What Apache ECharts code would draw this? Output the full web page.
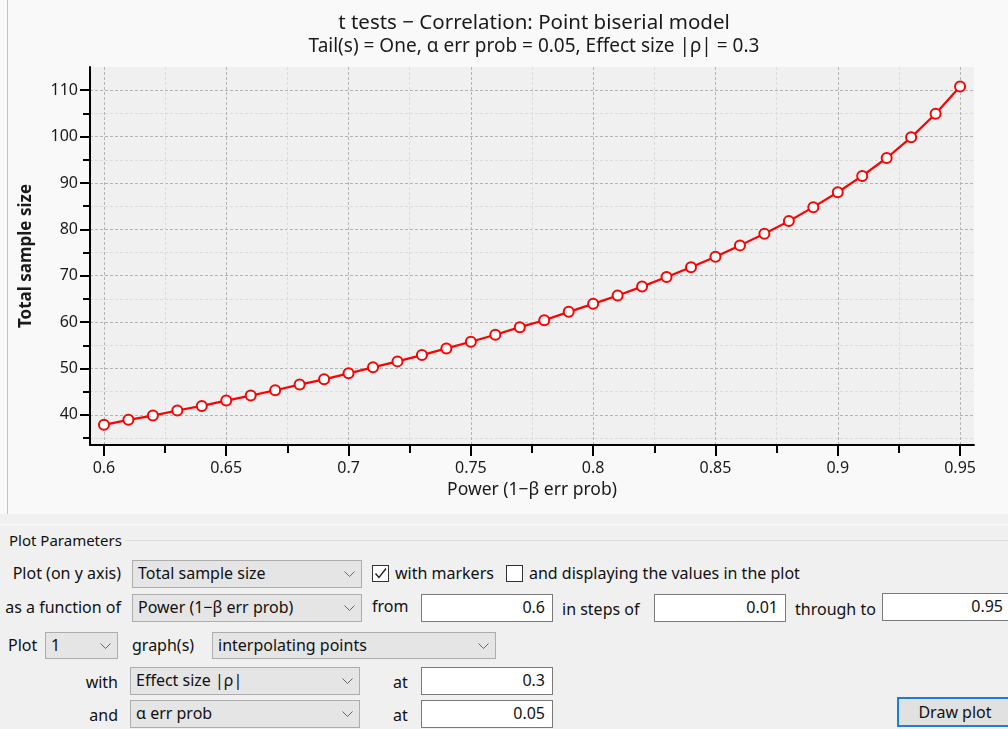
<!DOCTYPE html>
<html>
<head>
<meta charset="utf-8">
<script src="https://cdn.jsdelivr.net/npm/echarts@6/dist/echarts.min.js"></script>
<style>
  html, body { margin: 0; padding: 0; width: 1008px; height: 729px; overflow: hidden; background: #f0f0f0; }
  #chart { position: absolute; left: 0; top: 0; width: 1008px; height: 514px; background: #f9f9f9; }
  #vline { position: absolute; left: 7px; top: 0; width: 1px; height: 514px; background: #c4c4c4; }
  #panel { position: absolute; left: 0; top: 514px; width: 1008px; height: 215px; background: #f0f0f0; font-family: "Noto Sans", "Open Sans", sans-serif; font-size: 16px; color: #111; }
  .abs { position: absolute; white-space: nowrap; }
  .lbl { position: absolute; white-space: nowrap; line-height: 20px; }
  .combo { position: absolute; background: #e5e5e5; border: 1px solid #adadad; box-sizing: border-box; line-height: 25px; padding-left: 5px; white-space: nowrap; }
  .combo svg { position: absolute; right: 6px; top: 10px; }
  .tbox { position: absolute; background: #fff; border: 1px solid #7a7a7a; box-sizing: border-box; text-align: right; padding-right: 7px; line-height: 25px; }
  .chk { position: absolute; width: 17px; height: 17px; background: #fff; border: 1px solid #333; box-sizing: border-box; }
</style>
</head>
<body>
<div id="chart"></div>
<div id="vline"></div>
<div id="panel">
  <div class="abs" style="left:0;top:10px;width:1008px;height:1px;background:#fbfbfb;"></div>
  <div class="abs" style="left:126px;top:26px;width:882px;height:1px;background:#dcdcdc;"></div>
  <div class="lbl" style="left:9px;top:16px;font-size:15px;">Plot Parameters</div>

  <div class="lbl" style="left:0px;top:49px;width:121px;text-align:right;">Plot (on y axis)</div>
  <div class="combo" style="left:132px;top:46px;width:230px;height:28px;">Total sample size<svg width="11" height="7"><polyline points="0.5,0.5 5.5,5.5 10.5,0.5" fill="none" stroke="#666" stroke-width="1"/></svg></div>
  <div class="chk" style="left:372px;top:51px;"><svg width="15" height="15" style="position:absolute;left:0;top:0"><polyline points="2.5,7.5 6,11.5 13,2.5" fill="none" stroke="#222" stroke-width="1.4"/></svg></div>
  <div class="lbl" style="left:395px;top:49px;">with markers</div>
  <div class="chk" style="left:506px;top:51px;"></div>
  <div class="lbl" style="left:529px;top:49px;">and displaying the values in the plot</div>

  <div class="lbl" style="left:-20px;top:83px;width:141px;text-align:right;">as a function of</div>
  <div class="combo" style="left:132px;top:80px;width:230px;height:28px;">Power (1−β err prob)<svg width="11" height="7"><polyline points="0.5,0.5 5.5,5.5 10.5,0.5" fill="none" stroke="#666" stroke-width="1"/></svg></div>
  <div class="lbl" style="left:372px;top:82px;">from</div>
  <div class="tbox" style="left:421px;top:80px;width:132px;height:28px;">0.6</div>
  <div class="lbl" style="left:562px;top:85px;">in steps of</div>
  <div class="tbox" style="left:654px;top:80px;width:132px;height:28px;">0.01</div>
  <div class="lbl" style="left:795px;top:85px;">through to</div>
  <div class="tbox" style="left:882px;top:79px;width:134px;height:28px;padding-right:12px;">0.95</div>

  <div class="lbl" style="left:8px;top:121px;">Plot</div>
  <div class="combo" style="left:45px;top:118px;width:73px;height:27px;">1<svg width="11" height="7"><polyline points="0.5,0.5 5.5,5.5 10.5,0.5" fill="none" stroke="#666" stroke-width="1"/></svg></div>
  <div class="lbl" style="left:132px;top:121px;">graph(s)</div>
  <div class="combo" style="left:212px;top:118px;width:284px;height:27px;">interpolating points<svg width="11" height="7"><polyline points="0.5,0.5 5.5,5.5 10.5,0.5" fill="none" stroke="#666" stroke-width="1"/></svg></div>

  <div class="lbl" style="left:0px;top:158px;width:118px;text-align:right;">with</div>
  <div class="combo" style="left:130px;top:153px;width:230px;height:28px;">Effect size |ρ|<svg width="11" height="7"><polyline points="0.5,0.5 5.5,5.5 10.5,0.5" fill="none" stroke="#666" stroke-width="1"/></svg></div>
  <div class="lbl" style="left:393px;top:158px;">at</div>
  <div class="tbox" style="left:421px;top:153px;width:132px;height:28px;">0.3</div>

  <div class="lbl" style="left:0px;top:191px;width:118px;text-align:right;">and</div>
  <div class="combo" style="left:130px;top:186px;width:230px;height:28px;">α err prob<svg width="11" height="7"><polyline points="0.5,0.5 5.5,5.5 10.5,0.5" fill="none" stroke="#666" stroke-width="1"/></svg></div>
  <div class="lbl" style="left:393px;top:191px;">at</div>
  <div class="tbox" style="left:421px;top:186px;width:132px;height:28px;">0.05</div>

  <div class="abs" style="left:897px;top:183px;width:120px;height:30px;box-sizing:border-box;border:2px solid #1a7fd6;background:#e1e1e1;"></div>
  <div class="lbl" style="left:897px;top:188px;width:116px;text-align:center;">Draw plot</div>
</div>
<script>
// ---- data ----
const powerValues = [0.60, 0.61, 0.62, 0.63, 0.64, 0.65, 0.66, 0.67, 0.68, 0.69,
                     0.70, 0.71, 0.72, 0.73, 0.74, 0.75, 0.76, 0.77, 0.78, 0.79,
                     0.80, 0.81, 0.82, 0.83, 0.84, 0.85, 0.86, 0.87, 0.88, 0.89,
                     0.90, 0.91, 0.92, 0.93, 0.94, 0.95];
const totalSampleSize = [37.85, 38.92, 39.85, 40.93, 41.93, 43.08, 44.15, 45.30, 46.52, 47.66,
                         48.95, 50.24, 51.53, 52.89, 54.33, 55.76, 57.26, 58.91, 60.41, 62.21,
                         63.93, 65.72, 67.65, 69.73, 71.81, 74.10, 76.54, 79.05, 81.77, 84.78,
                         88.00, 91.51, 95.38, 99.83, 104.91, 110.79];
const xTickLabels = [0.6, 0.65, 0.7, 0.75, 0.8, 0.85, 0.9, 0.95];
const xMinorTicks = [0.625, 0.675, 0.725, 0.775, 0.825, 0.875, 0.925];
const yTickLabels = [40, 50, 60, 70, 80, 90, 100, 110];
const yMinorTicks = [35, 45, 55, 65, 75, 85, 95, 105];

const titleText = 't tests − Correlation: Point biserial model';
const subtitleText = 'Tail(s) = One, α err prob = 0.05, Effect size |ρ| = 0.3';

const chartFont = '"Noto Sans", "Open Sans", sans-serif';
const xRange = [0.5943, 0.9557];
const yRange = [33.5, 115];

const seriesData = powerValues.map((p, i) => [p, totalSampleSize[i]]);

const chart = echarts.init(document.getElementById('chart'), null, { renderer: 'canvas' });
chart.setOption({
  animation: false,
  backgroundColor: '#f9f9f9',
  textStyle: { fontFamily: chartFont },
  title: {
    text: titleText,
    subtext: subtitleText,
    left: 529, top: 8, textAlign: 'center',
    itemGap: 3,
    textStyle: { fontFamily: chartFont, fontSize: 20.5, fontWeight: 'normal', color: '#1a1a1a' },
    subtextStyle: { fontFamily: chartFont, fontSize: 19, color: '#1a1a1a' }
  },
  grid: {
    left: 90, top: 67, width: 884, height: 378,
    show: true, backgroundColor: '#f0f0f0', borderWidth: 0,
    containLabel: false, outerBoundsMode: 'none'
  },
  xAxis: [
    {
      type: 'value', min: xRange[0], max: xRange[1],
      name: 'Power (1−β err prob)', nameLocation: 'middle', nameGap: 35,
      nameTextStyle: { fontFamily: chartFont, fontSize: 17.5, color: '#1a1a1a' },
      axisLine: { show: true, onZero: false, lineStyle: { color: '#000', width: 2 } },
      axisTick: { show: true, inside: false, length: 11, customValues: xTickLabels, lineStyle: { color: '#000', width: 2 } },
      axisLabel: { customValues: xTickLabels, margin: 15, fontFamily: chartFont, fontSize: 16, color: '#1a1a1a' },
      splitLine: { show: true, lineStyle: { color: '#b4b4b4', type: [3, 2], width: 1 } }
    },
    {
      type: 'value', min: xRange[0], max: xRange[1], position: 'bottom',
      axisLine: { show: false },
      axisTick: { show: true, inside: false, length: 8, customValues: xMinorTicks, lineStyle: { color: '#000', width: 2 } },
      axisLabel: { show: false, customValues: xMinorTicks },
      splitLine: { show: true, lineStyle: { color: '#dcdcdc', type: [3, 2], width: 1 } }
    }
  ],
  yAxis: [
    {
      type: 'value', min: yRange[0], max: yRange[1],
      name: 'Total sample size', nameLocation: 'middle', nameGap: 55,
      nameTextStyle: { fontFamily: chartFont, fontSize: 17, fontWeight: 'bold', color: '#1a1a1a' },
      axisLine: { show: true, onZero: false, lineStyle: { color: '#000', width: 2 } },
      axisTick: { show: true, inside: false, length: 10, customValues: yTickLabels, lineStyle: { color: '#000', width: 2 } },
      axisLabel: { customValues: yTickLabels, margin: 12, fontFamily: chartFont, fontSize: 16, color: '#1a1a1a' },
      splitLine: { show: true, lineStyle: { color: '#b4b4b4', type: [3, 2], width: 1 } }
    },
    {
      type: 'value', min: yRange[0], max: yRange[1], position: 'left',
      axisLine: { show: false },
      axisTick: { show: true, inside: false, length: 7, customValues: yMinorTicks, lineStyle: { color: '#000', width: 2 } },
      axisLabel: { show: false, customValues: yMinorTicks },
      splitLine: { show: true, lineStyle: { color: '#dcdcdc', type: [3, 2], width: 1 } }
    }
  ],
  series: [{
    type: 'line',
    xAxisIndex: 0, yAxisIndex: 0,
    data: seriesData,
    symbol: 'circle', symbolSize: 10,
    lineStyle: { color: '#ff0000', width: 2.2 },
    itemStyle: { color: '#ffffff', borderColor: '#ff0000', borderWidth: 2 },
    emphasis: { disabled: true },
    z: 5
  }]
});
</script>
</body>
</html>
